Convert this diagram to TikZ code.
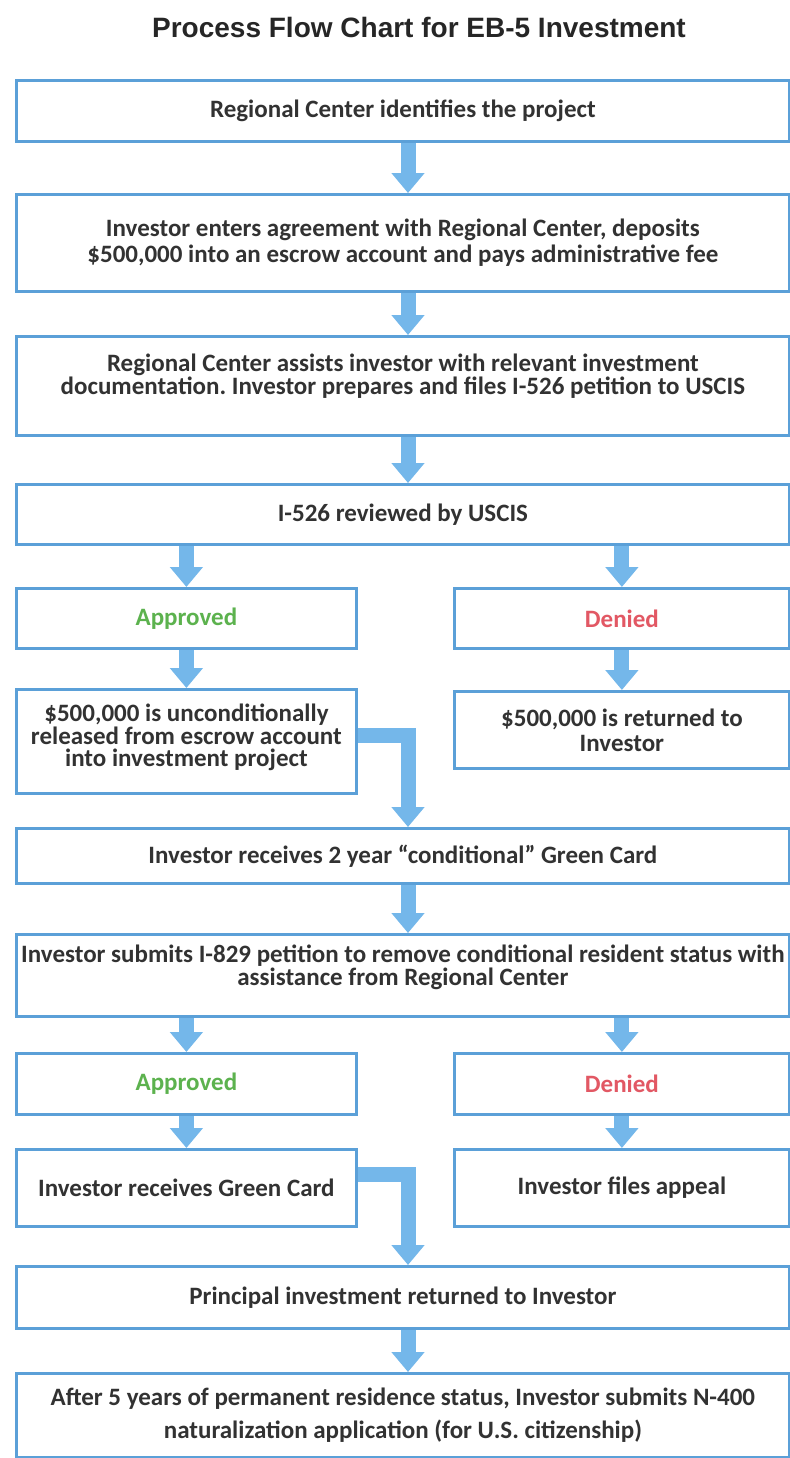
\documentclass[tikz,border=0pt]{standalone}
\usepackage{fontspec}
\setmainfont{Carlito}
\newfontfamily\titlefont{Liberation Sans}
\usetikzlibrary{arrows.meta,shadows}
\frenchspacing

\definecolor{boxblue}{RGB}{91,160,216}
\definecolor{arrowblue}{RGB}{116,183,234}
\definecolor{textgray}{RGB}{50,50,50}
\definecolor{okgreen}{RGB}{92,178,78}
\definecolor{nored}{RGB}{226,88,100}

\tikzset{
  flowbox/.style={draw=boxblue, line width=1.4pt, fill=white, anchor=north west,
    inner sep=0pt, align=center, text=textgray,
    font=\bfseries\fontsize{12.5}{13}\selectfont,
    drop shadow={shadow xshift=0.8pt, shadow yshift=-0.8pt, fill=black, opacity=0.18}},
  widebox/.style={flowbox, minimum width=386.5pt},
  halfbox/.style={flowbox, minimum width=170pt},
  bluearrow/.style={draw=arrowblue, line width=7.5pt, -{Triangle[length=10pt,width=16pt]}},
}

\begin{document}
\begin{tikzpicture}[x=0.5pt,y=0.5pt,yscale=-1]
\useasboundingbox (0,0) rectangle (790,1458);

% Title
\node[font=\titlefont\bfseries\fontsize{14}{16}\selectfont, text=black!85] (title) at (419,27) {Process Flow Chart for EB-5 Investment};

% Boxes
\node[widebox, minimum height=30.5pt] (b1) at (15,79) {Regional Center identifies the project};
\node[widebox, minimum height=48.5pt] (b2) at (15,193) {Investor enters agreement with Regional Center, deposits\\ \$500,000 into an escrow account and pays administrative fee};
\node[widebox, minimum height=49.5pt, text depth=12pt] (b3) at (15,335) {Regional Center assists investor with relevant investment\\[-1.5pt] documentation. Investor prepares and files I-526 petition to USCIS};
\node[widebox, minimum height=30pt] (b4) at (15,483) {I-526 reviewed by USCIS};

\node[halfbox, minimum height=30pt, text=okgreen] (appr1) at (15,587) {Approved};
\node[halfbox, minimum height=30pt, minimum width=167.5pt, text=nored] (deny1) at (453,587) {Denied};
\node[halfbox, minimum height=52pt, text depth=6pt] (rel) at (15,688) {\$500,000 is unconditionally\\[-1.7pt] released from escrow account\\[-1.7pt] into investment project};
\node[halfbox, minimum height=38.5pt, minimum width=167.5pt] (ret) at (453,690) {\$500,000 is returned to\\[-0.5pt] Investor};

\node[widebox, minimum height=27.5pt] (cond) at (15,827) {Investor receives 2 year “conditional” Green Card};
\node[widebox, minimum height=41pt, text depth=10pt] (i829) at (15,933) {Investor submits I-829 petition to remove conditional resident status with\\[-1.5pt] assistance from Regional Center};

\node[halfbox, minimum height=30.5pt, text=okgreen] (appr2) at (15,1052) {Approved};
\node[halfbox, minimum height=30.5pt, minimum width=167.5pt, text=nored] (deny2) at (453,1052) {Denied};
\node[halfbox, minimum height=38.5pt] (gc) at (15,1148) {Investor receives Green Card};
\node[halfbox, minimum height=38.5pt, minimum width=167.5pt] (appeal) at (453,1148) {Investor files appeal};

\node[widebox, minimum height=31pt] (princ) at (15,1265) {Principal investment returned to Investor};
\node[widebox, minimum height=42pt] (final) at (15,1372) {After 5 years of permanent residence status, Investor submits N-400\\[3.5pt] naturalization application (for U.S. citizenship)};

% Arrows
\coordinate (mid) at (408,0);
\draw[bluearrow] (b1.south -| mid) -- (b2.north -| mid);
\draw[bluearrow] (b2.south -| mid) -- (b3.north -| mid);
\draw[bluearrow] (b3.south -| mid) -- (b4.north -| mid);
\draw[bluearrow] (b4.south -| appr1.north) -- (appr1.north);
\draw[bluearrow] (b4.south -| deny1.north) -- (deny1.north);
\draw[bluearrow] (appr1.south) -- (rel.north);
\draw[bluearrow] (deny1.south) -- (ret.north);
\draw[bluearrow] ([yshift=-3pt]rel.east) -| (cond.north -| mid);
\draw[bluearrow] (cond.south -| mid) -- (i829.north -| mid);
\draw[bluearrow] (i829.south -| appr2.north) -- (appr2.north);
\draw[bluearrow] (i829.south -| deny2.north) -- (deny2.north);
\draw[bluearrow] (appr2.south) -- (gc.north);
\draw[bluearrow] (deny2.south) -- (appeal.north);
\draw[bluearrow] ([yshift=-6.5pt]gc.east) -| (princ.north -| mid);
\draw[bluearrow] (princ.south -| mid) -- (final.north -| mid);

\end{tikzpicture}
\end{document}
